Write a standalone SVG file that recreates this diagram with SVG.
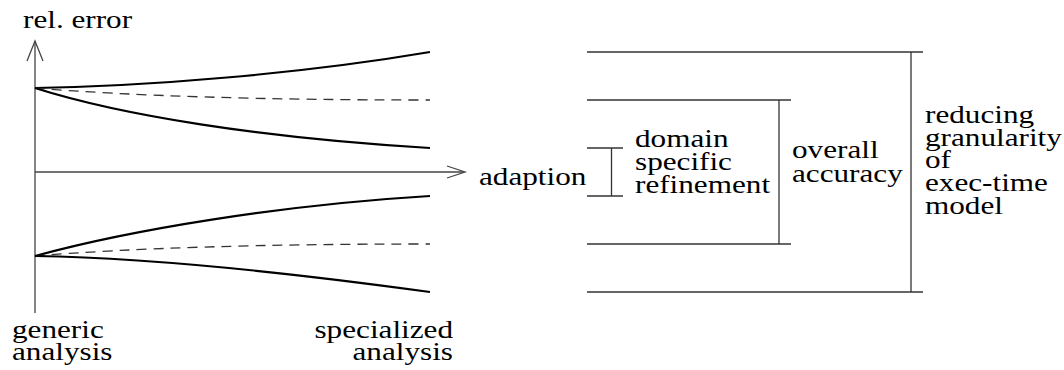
<svg xmlns="http://www.w3.org/2000/svg" width="1064" height="370" viewBox="0 0 1064 370">
  <style>
    .axis { stroke: #444; stroke-width: 1.3; fill: none; }
    .curve { stroke: #000; stroke-width: 2.2; fill: none; }
    .dash { stroke: #333; stroke-width: 1.3; fill: none; stroke-dasharray: 10 7; }
    .rule { stroke: #333; stroke-width: 1.3; fill: none; }
  </style>

  <!-- axes -->
  <g id="axes">
    <line class="axis" x1="35" y1="41" x2="35" y2="313"/>
    <polyline class="axis" points="27,61 35,41 43,61"/>
    <line class="axis" x1="35" y1="172" x2="464" y2="172"/>
    <polyline class="axis" points="447,166 465,172 447,178"/>
  </g>

  <!-- labels: Times face, widened horizontally -->
  <g id="axis-labels" font-size="26">
    <g transform="translate(23,0) scale(1.2,1)"><text x="0" y="28" font-family="Liberation Serif">rel. error</text></g>
    <g transform="translate(479,0) scale(1.2,1)"><text x="0" y="185" font-family="Liberation Serif">adaption</text></g>
    <g transform="translate(12,0) scale(1.2,1)">
      <text x="0" y="338" font-family="Liberation Serif">generic</text>
      <text x="0" y="360" font-family="Liberation Serif">analysis</text>
    </g>
    <g transform="translate(453,0) scale(1.2,1)" text-anchor="end">
      <text x="0" y="338" font-family="Liberation Serif">specialized</text>
      <text x="0" y="360" font-family="Liberation Serif">analysis</text>
    </g>
  </g>

  <!-- error bands, upper -->
  <g id="upper-band">
    <path class="curve" d="M35,88 C150,86 300,74 430,52"/>
    <path class="dash" d="M35,88 Q180,100 430,100"/>
    <path class="curve" d="M35,88 C120,115 260,138 430,148"/>
  </g>

  <!-- error bands, lower -->
  <g id="lower-band">
    <path class="curve" d="M35,256 C130,230 280,205 430,196"/>
    <path class="dash" d="M35,256 Q180,244 430,244"/>
    <path class="curve" d="M35,256 C150,258 300,274 430,292"/>
  </g>

  <!-- brackets on the right -->
  <g id="connectors">
    <line class="rule" x1="587" y1="52" x2="923" y2="52"/>
    <line class="rule" x1="587" y1="292" x2="923" y2="292"/>
    <line class="rule" x1="911" y1="52" x2="911" y2="292"/>

    <line class="rule" x1="587" y1="100" x2="791" y2="100"/>
    <line class="rule" x1="587" y1="244" x2="791" y2="244"/>
    <line class="rule" x1="779" y1="100" x2="779" y2="244"/>

    <line class="rule" x1="587" y1="148" x2="623" y2="148"/>
    <line class="rule" x1="587" y1="196" x2="623" y2="196"/>
    <line class="rule" x1="611.5" y1="148" x2="611.5" y2="196"/>
  </g>

  <g id="domain-specific" font-size="26" transform="translate(635,0) scale(1.2,1)">
    <text x="0" y="147" font-family="Liberation Serif">domain</text>
    <text x="0" y="170" font-family="Liberation Serif">specific</text>
    <text x="0" y="193" font-family="Liberation Serif">refinement</text>
  </g>

  <g id="overall-accuracy" font-size="26" transform="translate(792,0) scale(1.2,1)">
    <text x="0" y="158" font-family="Liberation Serif">overall</text>
    <text x="0" y="182" font-family="Liberation Serif">accuracy</text>
  </g>

  <g id="granularity" font-size="26" transform="translate(925,0) scale(1.2,1)">
    <text x="0" y="123" font-family="Liberation Serif">reducing</text>
    <text x="0" y="146" font-family="Liberation Serif">granularity</text>
    <text x="0" y="168.5" font-family="Liberation Serif">of</text>
    <text x="0" y="191" font-family="Liberation Serif">exec-time</text>
    <text x="0" y="214" font-family="Liberation Serif">model</text>
  </g>
</svg>
